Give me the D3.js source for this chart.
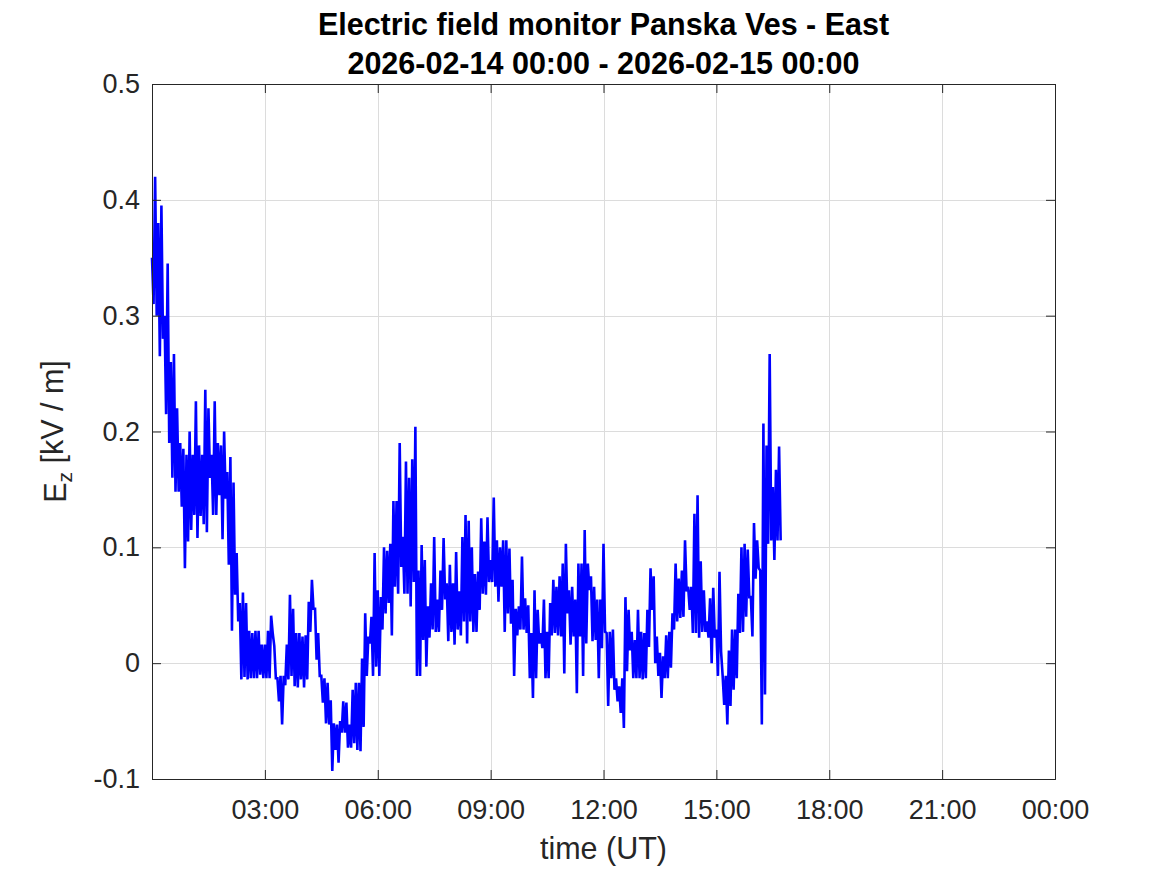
<!DOCTYPE html>
<html>
<head>
<meta charset="utf-8">
<script src="https://cdn.jsdelivr.net/npm/d3@7"></script>
<style>
  html, body { margin: 0; padding: 0; background: #ffffff; }
  svg { display: block; }
</style>
</head>
<body>
<script>
// ---------------- data ----------------
const titleLines = ["Electric field monitor Panska Ves - East", "2026-02-14 00:00 - 2026-02-15 00:00"];
const xLabel = "time (UT)";
const yLabelMain = "E";
const yLabelSub = "z";
const yLabelRest = " [kV / m]";
const xTickHours = [3, 6, 9, 12, 15, 18, 21, 24];
const xTickLabels = ["03:00", "06:00", "09:00", "12:00", "15:00", "18:00", "21:00", "00:00"];
const yTicks = [-0.1, 0, 0.1, 0.2, 0.3, 0.4, 0.5];
const yTickLabels = ["-0.1", "0", "0.1", "0.2", "0.3", "0.4", "0.5"];
const stepMinutes = 5; // spacing of the sampled envelope (each step: high then low value)

// local maxima of Ez (kV/m) in each 5-minute step, from 00:00 UT
const ezHigh = [
  0.35, 0.42, 0.38, 0.395, 0.30, 0.345, 0.26, 0.267, 0.22, 0.19,
  0.185, 0.18, 0.20, 0.18, 0.226, 0.188, 0.18, 0.236, 0.22, 0.18,
  0.226, 0.19, 0.188, 0.20, 0.165, 0.178, 0.156, 0.095, 0.052, 0.061,
  0.052, 0.028, 0.026, 0.028, 0.028, 0.016, 0.016, 0.028, 0.041, 0.015,
  -0.013, -0.011, -0.011, 0.016, 0.059, 0.047, 0.026, 0.026, 0.023, 0.024,
  0.053, 0.072, 0.047, 0.026, -0.011, -0.013, -0.017, -0.032, -0.052, -0.053,
  -0.05, -0.033, -0.034, -0.053, -0.023, -0.017, -0.017, 0.004, 0.043, 0.023,
  0.04, 0.095, 0.063, 0.057, 0.10, 0.097, 0.103, 0.14, 0.14, 0.19,
  0.109, 0.174, 0.16, 0.176, 0.204, 0.08, 0.102, 0.089, 0.049, 0.069,
  0.109, 0.055, 0.08, 0.108, 0.069, 0.085, 0.069, 0.096, 0.062, 0.109,
  0.128, 0.123, 0.10, 0.077, 0.079, 0.125, 0.105, 0.126, 0.089, 0.143,
  0.106, 0.10, 0.106, 0.106, 0.099, 0.072, 0.047, 0.049, 0.092, 0.056,
  0.05, 0.026, 0.063, 0.046, 0.026, 0.055, 0.027, 0.052, 0.072, 0.066,
  0.075, 0.086, 0.103, 0.063, 0.066, 0.055, 0.086, 0.086, 0.115, 0.086,
  0.075, 0.066, 0.055, 0.055, 0.103, 0.026, 0.027, 0.029, -0.013, -0.02,
  -0.013, 0.057, 0.046, 0.027, 0.02, 0.046, 0.027, 0.026, 0.046, 0.082,
  0.075, 0.023, 0.009, 0.006, 0.024, 0.027, 0.043, 0.086, 0.073, 0.08,
  0.106, 0.066, 0.066, 0.129, 0.145, 0.088, 0.063, 0.036, 0.056, 0.065,
  0.029, 0.079, -0.011, -0.011, 0.011, 0.029, 0.029, 0.06, 0.10, 0.103,
  0.098, 0.057, 0.121, 0.106, 0.08, 0.207, 0.188, 0.267, 0.152, 0.167,
  0.187
];
// local minima of Ez (kV/m) in each 5-minute step
const ezLow = [
  0.31, 0.30, 0.265, 0.28, 0.215, 0.19, 0.16, 0.148, 0.148, 0.135,
  0.082, 0.105, 0.115, 0.128, 0.108, 0.127, 0.12, 0.113, 0.16, 0.128,
  0.128, 0.145, 0.107, 0.142, 0.085, 0.028, 0.059, 0.036, -0.014, -0.012,
  -0.014, -0.013, -0.013, -0.013, -0.01, -0.013, -0.013, -0.013, 0.026, -0.013,
  -0.033, -0.053, -0.019, -0.014, -0.011, -0.02, -0.021, -0.014, -0.021, -0.014,
  0.027, 0.047, 0.003, -0.011, -0.034, -0.052, -0.053, -0.093, -0.075, -0.086,
  -0.06, -0.06, -0.073, -0.073, -0.069, -0.075, -0.076, -0.055, -0.011, 0.017,
  -0.011, -0.003, -0.011, 0.029, 0.043, 0.052, 0.024, 0.066, 0.06, 0.083,
  0.06, 0.06, 0.049, 0.07, -0.011, -0.011, 0.02, -0.003, 0.022, 0.029,
  0.027, 0.027, 0.046, 0.055, 0.019, 0.027, 0.016, 0.029, 0.024, 0.036,
  0.017, 0.036, 0.027, 0.027, 0.046, 0.06, 0.059, 0.07, 0.07, 0.066,
  0.053, 0.066, 0.027, 0.043, 0.034, -0.011, 0.024, 0.029, 0.029, 0.026,
  -0.013, -0.03, -0.013, 0.017, 0.013, -0.013, -0.013, 0.024, 0.026, 0.024,
  0.023, -0.009, 0.043, 0.016, 0.023, -0.026, 0.023, -0.011, 0.017, 0.063,
  0.019, 0.02, -0.013, 0.013, 0.027, -0.037, -0.013, -0.023, -0.033, -0.043,
  -0.056, -0.007, 0.011, -0.013, -0.013, -0.013, -0.014, -0.013, 0.014, 0.046,
  0.0, -0.011, -0.03, -0.013, -0.013, -0.004, 0.029, 0.036, 0.039, 0.04,
  0.062, 0.046, 0.026, 0.026, 0.022, 0.027, 0.027, 0.022, 0.0, 0.022,
  -0.011, 0.01, -0.036, -0.053, -0.037, -0.023, -0.013, 0.026, 0.027, 0.04,
  0.057, 0.023, 0.073, 0.082, -0.053, -0.027, 0.103, 0.106, 0.089, 0.106,
  0.106
];

// ---------------- chart ----------------
const W = 1167, H = 875;
const plot = { left: 152, right: 1055, top: 84, bottom: 779 };
const FONT = "'Liberation Sans', Arial, Helvetica, sans-serif";
const AXIS_COLOR = "#262626";

const svg = d3.select("body").append("svg").attr("width", W).attr("height", H);
svg.append("rect").attr("width", W).attr("height", H).attr("fill", "#ffffff");

const x = d3.scaleLinear().domain([0, 24]).range([plot.left, plot.right]);
const y = d3.scaleLinear().domain([-0.1, 0.5]).range([plot.bottom, plot.top]);

// grid
const grid = svg.append("g").attr("stroke", "#dcdcdc").attr("stroke-width", 1);
grid.selectAll("line.gx").data(xTickHours).join("line")
  .attr("x1", d => Math.round(x(d)) + 0.5).attr("x2", d => Math.round(x(d)) + 0.5)
  .attr("y1", plot.top).attr("y2", plot.bottom);
grid.selectAll("line.gy").data(yTicks).join("line")
  .attr("y1", d => Math.round(y(d)) + 0.5).attr("y2", d => Math.round(y(d)) + 0.5)
  .attr("x1", plot.left).attr("x2", plot.right);

// data line: each step contributes its high then its low value
const points = [];
ezHigh.forEach((hi, k) => {
  points.push({ t: (k * stepMinutes) / 60, v: hi });
  points.push({ t: (k * stepMinutes + stepMinutes / 2) / 60, v: ezLow[k] });
});
const line = d3.line().x(d => x(d.t)).y(d => y(d.v));
svg.append("path").datum(points)
  .attr("d", line)
  .attr("fill", "none")
  .attr("stroke", "#0000ff")
  .attr("stroke-width", 2.6)
  .attr("stroke-linejoin", "miter")
  .attr("stroke-miterlimit", 2);

// axes (ticks inward, box)
const tickLen = 9;
const xAxisB = d3.axisBottom(x).tickValues(xTickHours).tickSize(-tickLen).tickPadding(tickLen + 12)
  .tickFormat((d, i) => xTickLabels[i]);
const xAxisT = d3.axisTop(x).tickValues(xTickHours).tickSize(-tickLen).tickFormat("");
const yAxisL = d3.axisLeft(y).tickValues(yTicks).tickSize(-tickLen).tickPadding(tickLen + 3)
  .tickFormat((d, i) => yTickLabels[i]);
const yAxisR = d3.axisRight(y).tickValues(yTicks).tickSize(-tickLen).tickFormat("");

function style(g) {
  g.selectAll("path.domain").attr("stroke", AXIS_COLOR).attr("stroke-width", 1);
  g.selectAll(".tick line").attr("stroke", AXIS_COLOR).attr("stroke-width", 1);
  g.selectAll(".tick text").attr("fill", AXIS_COLOR).attr("font-family", FONT).attr("font-size", 27);
}
svg.append("g").attr("transform", `translate(0,${plot.bottom})`).call(xAxisB).call(style);
svg.append("g").attr("transform", `translate(0,${plot.top})`).call(xAxisT).call(style);
svg.append("g").attr("transform", `translate(${plot.left},0)`).call(yAxisL).call(style);
svg.append("g").attr("transform", `translate(${plot.right},0)`).call(yAxisR).call(style);
svg.selectAll(".tick text").each(function () {
  const t = d3.select(this);
  if (t.text() === "") t.remove();
});

// title
svg.append("text")
  .attr("x", (plot.left + plot.right) / 2).attr("y", 35)
  .attr("text-anchor", "middle").attr("font-family", FONT).attr("font-weight", "bold")
  .attr("font-size", 30.5).attr("fill", "#000000").text(titleLines[0]);
svg.append("text")
  .attr("x", (plot.left + plot.right) / 2).attr("y", 74)
  .attr("text-anchor", "middle").attr("font-family", FONT).attr("font-weight", "bold")
  .attr("font-size", 30.5).attr("fill", "#000000").text(titleLines[1]);

// x label
svg.append("text")
  .attr("x", (plot.left + plot.right) / 2).attr("y", 859)
  .attr("text-anchor", "middle").attr("font-family", FONT)
  .attr("font-size", 30.5).attr("fill", AXIS_COLOR).text(xLabel);

// y label
const yl = svg.append("text")
  .attr("transform", `translate(66,${(plot.top + plot.bottom) / 2}) rotate(-90)`)
  .attr("text-anchor", "middle").attr("font-family", FONT)
  .attr("font-size", 30.5).attr("fill", AXIS_COLOR);
yl.append("tspan").text(yLabelMain);
yl.append("tspan").attr("font-size", 21).attr("dy", "0.3em").text(yLabelSub);
yl.append("tspan").attr("dy", "-0.3em").text(yLabelRest);
</script>
</body>
</html>
